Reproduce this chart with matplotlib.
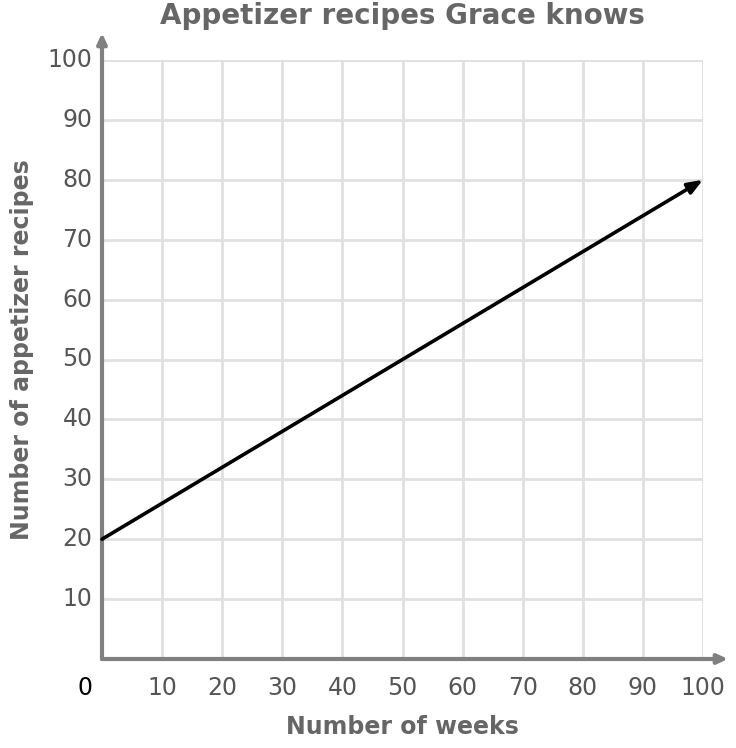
import matplotlib
matplotlib.use("Agg")
import matplotlib.pyplot as plt

# Data
weeks = [0, 100]
recipes = [20, 80]
x_ticks = [10, 20, 30, 40, 50, 60, 70, 80, 90, 100]
y_ticks = [10, 20, 30, 40, 50, 60, 70, 80, 90, 100]
title = "Appetizer recipes Grace knows"
xlabel = "Number of weeks"
ylabel = "Number of appetizer recipes"

W, H = 736, 748
fig = plt.figure(figsize=(W / 100, H / 100), dpi=100)
x0, x1 = 102, 703
y0, y1 = 659, 60
ax = fig.add_axes([x0 / W, 1 - y0 / H, (x1 - x0) / W, (y0 - y1) / H])
ax.set_xlim(0, 100)
ax.set_ylim(0, 100)

for s in ax.spines.values():
    s.set_visible(False)

grid_c = "#e0e0e0"
for t in x_ticks:
    ax.axvline(t, color=grid_c, lw=2, zorder=1)
for t in y_ticks:
    ax.axhline(t, color=grid_c, lw=2, zorder=1)

axis_c = "#808080"
# axes with arrows
ax.annotate("", xy=(1 + 25 / (x1 - x0), 0), xytext=(0, 0), xycoords="axes fraction",
            arrowprops=dict(arrowstyle="-|>,head_length=0.6,head_width=0.28", color=axis_c, lw=3,
                            shrinkA=0, shrinkB=0), annotation_clip=False, zorder=3)
ax.annotate("", xy=(0, 1 + 27 / (y0 - y1)), xytext=(0, 0), xycoords="axes fraction",
            arrowprops=dict(arrowstyle="-|>,head_length=0.6,head_width=0.28", color=axis_c, lw=3,
                            shrinkA=0, shrinkB=0), annotation_clip=False, zorder=3)

# data line with arrow
ax.annotate("", xy=(weeks[1], recipes[1]), xytext=(weeks[0], recipes[0]), xycoords="data",
            arrowprops=dict(arrowstyle="-|>,head_length=0.9,head_width=0.35", color="black", lw=2.6,
                            shrinkA=0, shrinkB=0), annotation_clip=False, zorder=4)

ax.set_xticks([])
ax.set_yticks([])
lab_c = "#555555"
fs = 17
for t in x_ticks:
    ax.text(t, -4.8, str(t), ha="center", va="center", fontsize=fs, color=lab_c,
            family="DejaVu Sans", clip_on=False)
for t in y_ticks:
    ax.text(-1.6, t, str(t), ha="right", va="center", fontsize=fs, color=lab_c,
            family="DejaVu Sans", clip_on=False)
ax.text(-2.8, -4.8, "0", ha="center", va="center", fontsize=fs, color="black",
        family="DejaVu Sans", clip_on=False)

fig.text(402 / W, 1 - 16 / H, title, ha="center", va="center", fontsize=20,
         fontweight="bold", color="#666666")
fig.text(402 / W, 1 - 727 / H, xlabel, ha="center", va="center", fontsize=17,
         fontweight="bold", color="#666666")
fig.text(22 / W, 1 - 350 / H, ylabel, ha="center", va="center", fontsize=17,
         fontweight="bold", color="#666666", rotation=90)

fig.savefig("out.png", dpi=100, facecolor="white")
